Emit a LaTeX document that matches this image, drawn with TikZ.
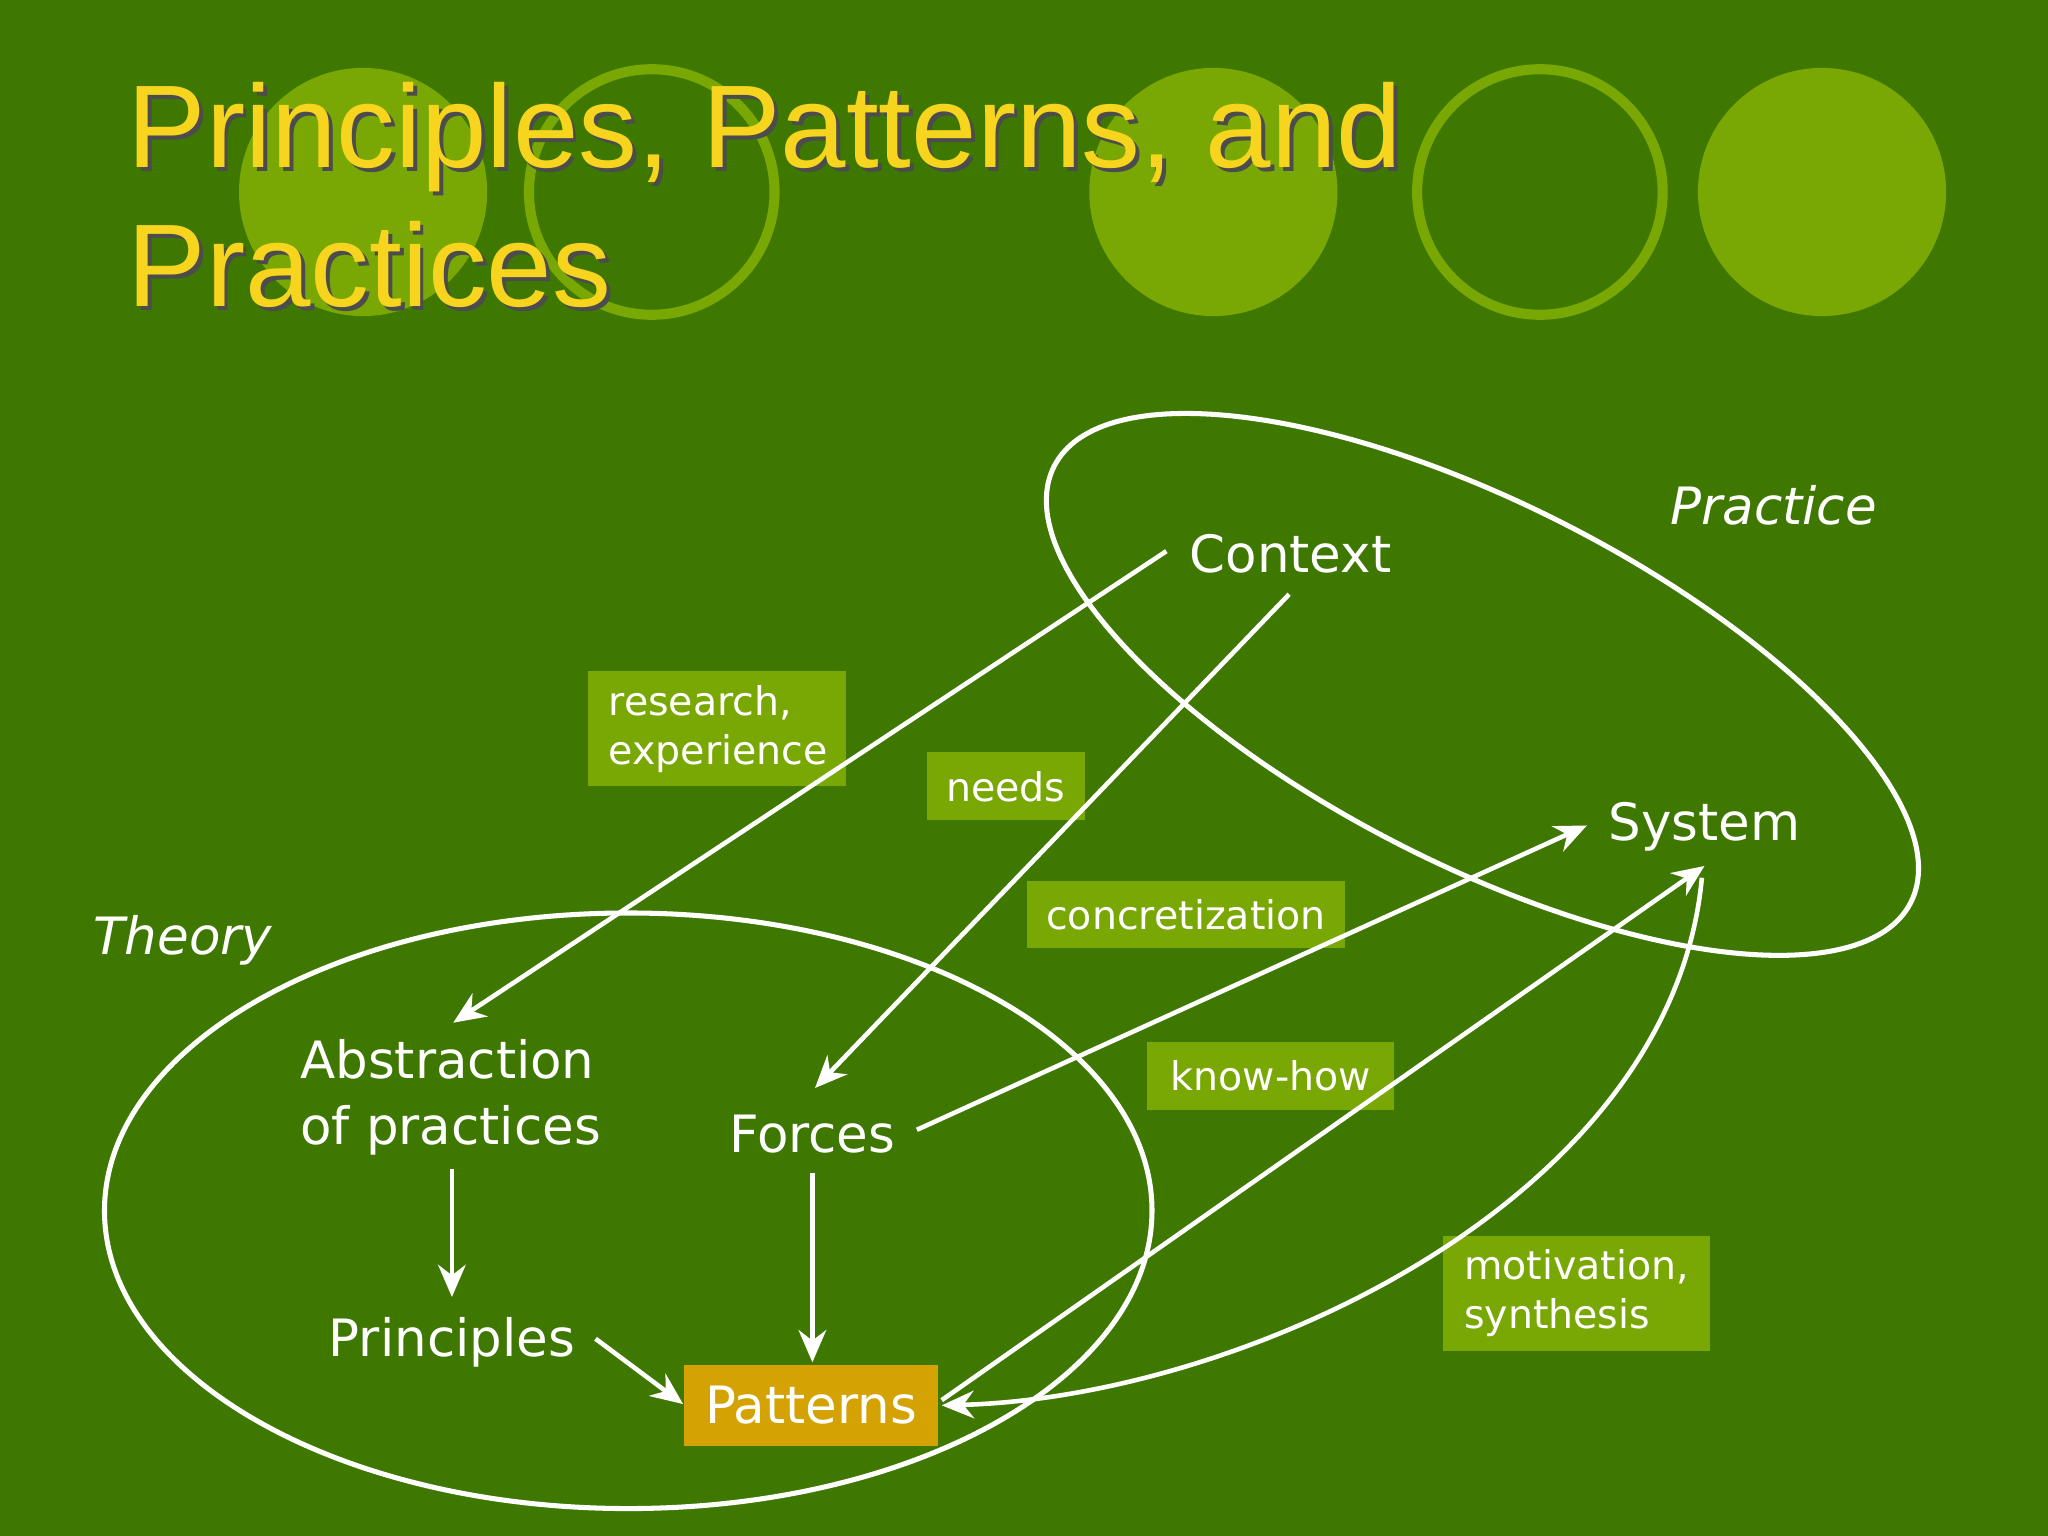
\documentclass[tikz,border=0pt]{standalone}
\usepackage{fontspec}
\setmainfont{DejaVu Sans}
\newfontfamily\titlefont{Liberation Sans}
\usetikzlibrary{arrows.meta}
\definecolor{bg}{HTML}{3F7800}
\definecolor{lite}{HTML}{79A804}
\definecolor{ttl}{HTML}{F7D51E}
\definecolor{patc}{HTML}{D4A202}
\tikzset{
  lbl/.style={text=white,font=\fontsize{11.2}{14.5}\selectfont,align=left},
  tag/.style={fill=lite,text=white,font=\fontsize{8.6}{10.6}\selectfont,align=left,inner sep=0pt},
  conn/.style={draw=white,line width=1pt,-{Stealth[length=7pt,width=6pt]}},
  ring/.style={draw=white,line width=1.1pt}
}
\begin{document}
\begin{tikzpicture}[x=0.01cm,y=-0.01cm]
\fill[bg] (0,0) rectangle (1568,1176);
\useasboundingbox (0,0) rectangle (1568,1176);
% circles
\fill[lite] (278,147) circle (95);
\draw[lite,line width=2.2pt] (499,147) circle (94);
\fill[lite] (929,147) circle (95);
\draw[lite,line width=2.2pt] (1179,147) circle (94);
\fill[lite] (1395,147) circle (95);
% title
\foreach \dx/\col in {3/black!70,0/ttl}{
\node[anchor=base west,text=\col,font=\titlefont\fontsize{25.6}{30}\selectfont,inner sep=0pt] at (97+\dx,128+\dx) {Principles, Patterns, and};
\node[anchor=base west,text=\col,font=\titlefont\fontsize{25.6}{30}\selectfont,inner sep=0pt] at (97+\dx,235+\dx) {Practices};
}
% ellipses
\draw[ring] (1135,524) ellipse[x radius=368,y radius=138,rotate=-27];
\draw[ring] (481,927) ellipse[x radius=401,y radius=228];
% tags
\node[tag,minimum width=198*0.01cm,minimum height=88*0.01cm,text width=166*0.01cm] (t1) at (549,558) {research,\\experience};
\node[tag,minimum width=121*0.01cm,minimum height=52*0.01cm] (t2) at (770,602) {needs};
\node[tag,minimum width=244*0.01cm,minimum height=51*0.01cm] (t3) at (908,700) {concretization};
\node[tag,minimum width=189*0.01cm,minimum height=52*0.01cm] (t4) at (973,824) {know-how};
\node[tag,minimum width=205*0.01cm,minimum height=88*0.01cm,text width=172*0.01cm] (t5) at (1207,990) {motivation,\\synthesis};
% nodes
\node[lbl] (ctx) at (988,424) {Context};
\node[lbl] (sys) at (1305,633) {System};
\node[lbl] (abs) at (345,840) {Abstraction\\of practices};
\node[lbl] (frc) at (622,868) {Forces};
\node[lbl] (prn) at (346,1028) {Principles};
\node[lbl,fill=patc,minimum width=195*0.01cm,minimum height=62*0.01cm,inner sep=0pt] (pat) at (621,1076) {Patterns};
\node[lbl,font=\fontsize{11.2}{14}\selectfont\itshape] (th) at (140,720) {Theory};
\node[lbl,font=\fontsize{11.2}{14}\selectfont\itshape] (pr) at (1358,387) {Practice};
% coordinates
\coordinate (c1) at (893,422); \coordinate (a1) at (347,783);
\coordinate (c2) at (987,455); \coordinate (f1) at (624,833);
\coordinate (f2) at (702,865); \coordinate (s1) at (1215,632);
\coordinate (p1) at (721,1072); \coordinate (s2) at (1305,663);
\coordinate (s3) at (1303,672); \coordinate (p2) at (721,1076);
\coordinate (a2) at (346,895); \coordinate (r1) at (346,993);
\coordinate (f3) at (622,898); \coordinate (p3) at (622,1043);
\coordinate (r2) at (456,1025); \coordinate (p4) at (523,1075);
\draw[conn] (c1) -- (a1);
\draw[conn] (c2) -- (f1);
\draw[conn] (f2) -- (s1);
\draw[conn] (p1) -- (s2);
\draw[conn] (s3) .. controls (1280,920) and (950,1070) .. (p2);
\draw[conn] (a2) -- (r1);
\draw[conn] (f3) -- (p3);
\draw[conn] (r2) -- (p4);
\end{tikzpicture}
\end{document}
